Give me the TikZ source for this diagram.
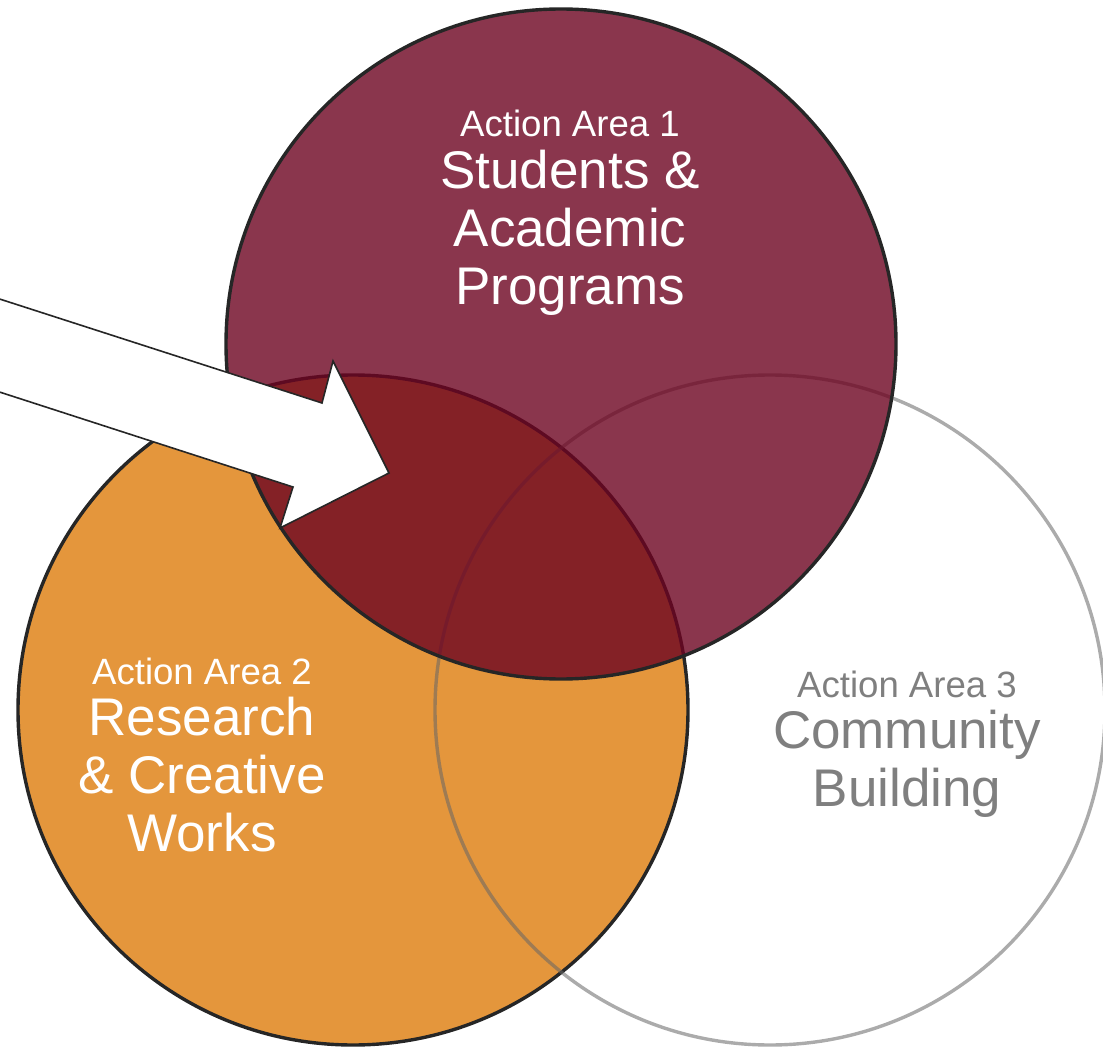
\documentclass[tikz,border=0pt]{standalone}
\usepackage{fontspec}
\setmainfont{Liberation Sans}
\usetikzlibrary{positioning}
\definecolor{areamaroon}{RGB}{109,4,33}
\definecolor{areaorange}{RGB}{228,150,60}
\definecolor{areagray}{RGB}{127,127,127}
\definecolor{arealine}{RGB}{38,38,38}
\tikzstyle{venn} = [circle, draw=arealine, line width=1.7pt, minimum size=335pt, inner sep=0pt]
\tikzstyle{areatext} = [align=center, font=\fontsize{26.5}{29}\selectfont, text=white]
\newcommand{\areasmall}{\fontsize{18.3}{20}\selectfont}

\begin{document}
\begin{tikzpicture}[x=0.5pt, y=-0.5pt]
    \useasboundingbox (0,0) rectangle (1103,1048);
    \clip (0,0) rectangle (1103,1048);
    \node [venn, fill=areaorange] (R) at (353,710) {};
    \node [venn, draw=black!60, draw opacity=0.55] (C) at (770,710) {};
    \node [venn, fill=areamaroon, fill opacity=0.8] (S) at (561,344) {};
    %% Arrow
    \draw [arealine, fill=white, line width=0.8pt] (-50,283) -- (322,403) -- (333,361) -- (389,473)
      -- (280,528) -- (293,487) -- (-50,376) -- cycle;
    %% Labels
    \node [areatext, anchor=north] (SText) at (570,103) {{\areasmall Action Area 1}\\[-3pt]Students \&\\Academic\\Programs};
    \node [areatext, anchor=north] (RText) at (202,651) {{\areasmall Action Area 2}\\[-3.5pt]Research\\\& Creative\\Works};
    \node [areatext, anchor=north, text=areagray] (CText) at (907,664) {{\areasmall Action Area 3}\\[-3.5pt]Community\\Building};
\end{tikzpicture}
\end{document}
